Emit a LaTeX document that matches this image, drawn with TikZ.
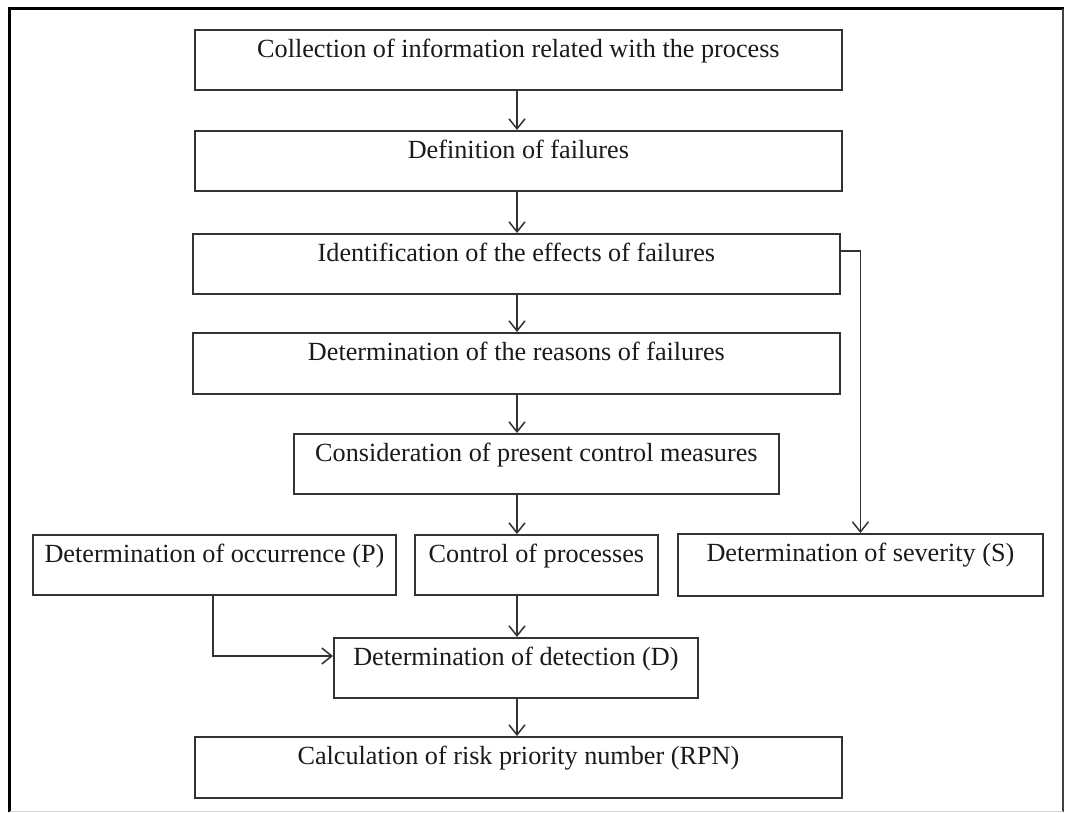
\documentclass[tikz,border=0pt]{standalone}
\usepackage{fontspec}
\setmainfont{Liberation Serif}
\usetikzlibrary{arrows.meta,calc}
\definecolor{boxline}{HTML}{333333}
\definecolor{txt}{HTML}{1A1A1A}
\begin{document}
\begin{tikzpicture}[x=1pt,y=-1pt,
  box/.style={draw=boxline, line width=1.8pt, inner sep=0pt, text height=28pt, text depth=32pt,
    anchor=north west, text=txt, font=\fontsize{26.2}{30}\selectfont},
  arr/.style={draw=boxline, line width=1.5pt, -{Straight Barb[length=10pt,width=16pt,line width=1.5pt]}}]
\useasboundingbox (0,0) rectangle (1065,812);
\fill[white] (0,0) rectangle (1065,812);
% outer frame
\draw[line width=3.2pt, black] (9.5,812) -- (9.5,8.5) -- (1064,8.5);
\draw[line width=1.5pt, black!75] (1063,8.5) -- (1063,812);
\draw[line width=0.8pt, black!15] (9.5,811) -- (1063,811);
% boxes
\node[box, minimum width=647pt] (b1) at (194,29) {Collection of information related with the process};
\node[box, minimum width=647pt] (b2) at (194,130) {Definition of failures};
\node[box, minimum width=647pt] (b3) at (192,233) {Identification of the effects of failures};
\node[box, minimum width=647pt, text depth=33pt] (b4) at (192,332) {Determination of the reasons of failures};
\node[box, minimum width=485pt] (b5) at (293,433) {Consideration of present control measures};
\node[box, minimum width=363pt] (occ) at (32,534) {Determination of occurrence (P)};
\node[box, minimum width=243pt] (ctrl) at (414,534) {Control of processes};
\node[box, minimum width=365pt, text depth=34pt] (sev) at (677,533) {Determination of severity (S)};
\node[box, minimum width=364pt] (det) at (333,637) {Determination of detection (D)};
\node[box, minimum width=647pt, text depth=33pt] (rpn) at (194,736) {Calculation of risk priority number (RPN)};
\coordinate (ax) at (517,0);
% connectors
\draw[arr] (b1.south -| ax) -- (b2.north -| ax);
\draw[arr] (b2.south -| ax) -- (b3.north -| ax);
\draw[arr] (b3.south -| ax) -- (b4.north -| ax);
\draw[arr] (b4.south -| ax) -- (b5.north -| ax);
\draw[arr] (b5.south -| ax) -- (ctrl.north -| ax);
\draw[arr] (ctrl.south -| ax) -- (det.north -| ax);
\draw[arr] (det.south -| ax) -- (rpn.north -| ax);
\draw[arr] ([yshift=-18pt]b3.north east) -| (sev.north);
\draw[arr] ([xshift=-1.5pt]occ.south) |- ([yshift=-19pt]det.north west);
\end{tikzpicture}
\end{document}
